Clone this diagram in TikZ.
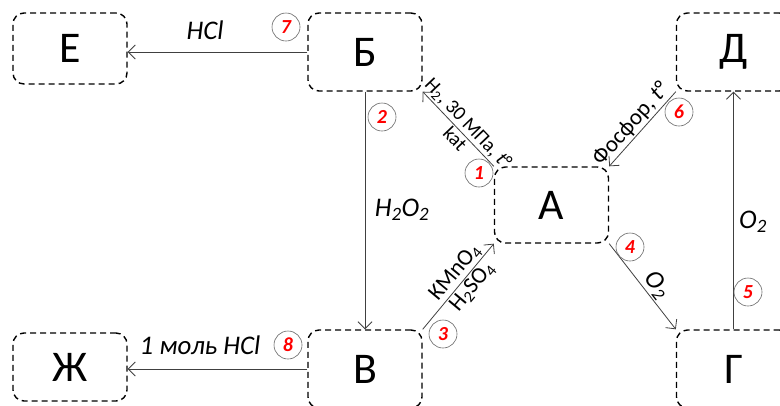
\documentclass[tikz,border=0pt]{standalone}
\usepackage{fontspec}
\setmainfont{Carlito}
\usetikzlibrary{arrows.meta}
\begin{document}
\begin{tikzpicture}[x=1bp,y=-1bp,
 box/.style={draw, dash pattern=on 6bp off 4bp, line width=1.4bp, rounded corners=11bp, minimum width=114bp, minimum height=78bp, inner sep=0pt, font=\fontsize{44}{44}\selectfont},
 conn/.style={draw=black!75, line width=0.8bp, -{Straight Barb[length=7bp,width=14bp]}},
 num/.style={circle, draw=black!60, line width=0.6bp, minimum size=28bp, inner sep=0pt, text=red, font=\fontsize{20}{20}\selectfont\bfseries\itshape},
 lbl/.style={font=\fontsize{27}{27}\selectfont\itshape},
 slbl/.style={font=\fontsize{20}{20}\selectfont, sloped, inner sep=1.5bp},
 blbl/.style={font=\fontsize{23}{23}\selectfont, sloped, inner sep=1.5bp}]
\useasboundingbox (0,0) rectangle (780,405);
\clip (0,0) rectangle (780,405);
\node[box, minimum height=71bp] (E) at (70,48.5) {Е};
\node[box] (B) at (365,52) {Б};
\node[box, minimum height=76bp] (A) at (551.5,205) {А};
\node[box] (D) at (733.5,52) {Д};
\node[box] (G) at (733.5,369) {Г};
\node[box] (V) at (365,369) {В};
\node[box, minimum height=68bp] (Zh) at (70,367) {Ж};

\draw[conn] (B.west) -- (B.west -| E.east);
\draw[conn] (B.south) -- (V.north);
\draw[conn] (A.north west) -- (B.south east)
  node[slbl, pos=0.47, above] {H\textsubscript{2}, 30 МПа, \textit{t}°}
  node[slbl, pos=0.45, below] {kat};
\draw[conn] (V.north east) -- (A.south west)
  node[blbl, pos=0.58, above] {KMnO\textsubscript{4}}
  node[blbl, pos=0.58, below] {H\textsubscript{2}SO\textsubscript{4}};
\draw[conn] (A.south east) -- (G.north west)
  node[slbl, pos=0.57, above, font=\fontsize{26}{26}\selectfont\itshape] {O\textsubscript{2}};
\draw[conn] (D.south west) -- (A.north east)
  node[blbl, pos=0.54, above] {Фосфор, \textit{t}°};
\draw[conn] (G.north) -- (D.south);
\draw[conn] (V.west) -- (V.west -| Zh.east);

\node[lbl] (lHCl) at (205,30) {HCl};
\node[lbl] (lH2O2) at (402,210) {H\textsubscript{2}O\textsubscript{2}};
\node[lbl] (lO2) at (753,222) {O\textsubscript{2}};
\node[lbl] (lmol) at (200,345) {1 моль HCl};

\node[num] (n1) at (479,173) {1};
\node[num] (n2) at (382,117) {2};
\node[num] (n3) at (443,334) {3};
\node[num] (n4) at (630,247) {4};
\node[num] (n5) at (748,292) {5};
\node[num] (n6) at (679,112) {6};
\node[num] (n7) at (286,27) {7};
\node[num] (n8) at (288,345) {8};
\end{tikzpicture}
\end{document}
